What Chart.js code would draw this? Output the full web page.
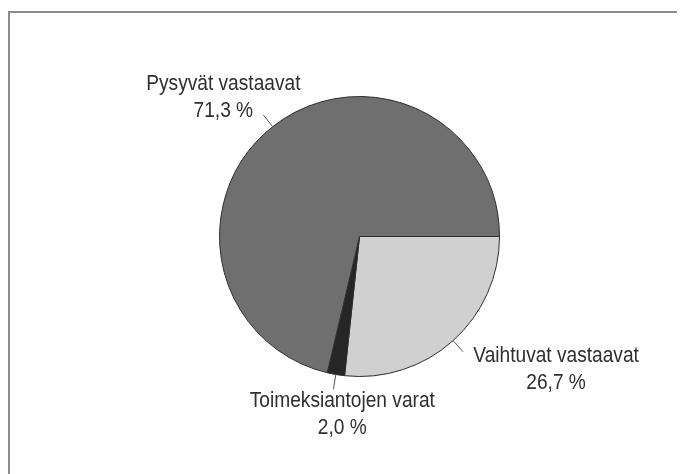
<!DOCTYPE html>
<html>
<head>
<meta charset="utf-8">
<script src="https://cdn.jsdelivr.net/npm/chart.js@4/dist/chart.umd.min.js"></script>
<style>
  html, body { margin: 0; padding: 0; background: #ffffff; }
  #wrap { width: 686px; height: 474px; position: relative; }
</style>
</head>
<body>
<div id="wrap"><canvas id="c" width="686" height="474"></canvas></div>
<script>
// ---- data ----
const categories = ["Vaihtuvat vastaavat", "Toimeksiantojen varat", "Pysyvät vastaavat"];
const shares = [26.7, 2.0, 71.3];
const shareLabels = ["26,7 %", "2,0 %", "71,3 %"];

// ---- styles ----
const sliceColors = ["#d0d0d0", "#262626", "#6f6f6f"];
// label block placement relative to leader end: [dx of block centre, dy of first line centre]
const labelPlacement = [[93, 4], [9, 12], [-40, -31]];

const framePlugin = {
  id: 'frame',
  beforeDraw(chart) {
    const ctx = chart.ctx;
    ctx.save();
    ctx.strokeStyle = '#8c8c8c';
    ctx.lineWidth = 2;
    ctx.beginPath();
    ctx.moveTo(9, 474);
    ctx.lineTo(9, 12);
    ctx.lineTo(677, 12);
    ctx.stroke();
    ctx.restore();
  }
};

function condensedText(ctx, text, x, y) {
  ctx.save();
  ctx.translate(x, y);
  ctx.scale(0.87, 1);
  ctx.fillText(text, 0, 0);
  ctx.restore();
}

const labelPlugin = {
  id: 'pieLabels',
  afterDraw(chart) {
    const ctx = chart.ctx;
    const meta = chart.getDatasetMeta(0);
    ctx.save();
    ctx.font = '22px "Liberation Sans", Arial, sans-serif';
    ctx.fillStyle = '#2f2f2f';
    ctx.strokeStyle = '#555555';
    ctx.lineWidth = 1;
    ctx.textAlign = 'center';
    ctx.textBaseline = 'middle';
    meta.data.forEach((arc, i) => {
      const p = arc.getProps(['x', 'y', 'startAngle', 'endAngle', 'outerRadius'], true);
      const mid = (p.startAngle + p.endAngle) / 2;
      const r0 = p.outerRadius;
      const r1 = p.outerRadius + 15;
      const x0 = p.x + Math.cos(mid) * r0, y0 = p.y + Math.sin(mid) * r0;
      const x1 = p.x + Math.cos(mid) * r1, y1 = p.y + Math.sin(mid) * r1;
      ctx.beginPath();
      ctx.moveTo(x0, y0);
      ctx.lineTo(x1, y1);
      ctx.stroke();
      const [dx, dy] = labelPlacement[i];
      condensedText(ctx, categories[i], x1 + dx, y1 + dy);
      condensedText(ctx, shareLabels[i], x1 + dx, y1 + dy + 27);
    });
    ctx.restore();
  }
};

new Chart(document.getElementById('c'), {
  type: 'pie',
  data: {
    labels: categories,
    datasets: [{
      data: shares,
      backgroundColor: sliceColors,
      borderColor: '#2e2e2e',
      borderWidth: 1
    }]
  },
  options: {
    responsive: false,
    animation: false,
    rotation: 90,
    layout: { padding: { left: 150, right: 117, top: 96, bottom: 97 } },
    plugins: {
      legend: { display: false },
      tooltip: { enabled: false },
      title: { display: false }
    }
  },
  plugins: [framePlugin, labelPlugin]
});
</script>
</body>
</html>
